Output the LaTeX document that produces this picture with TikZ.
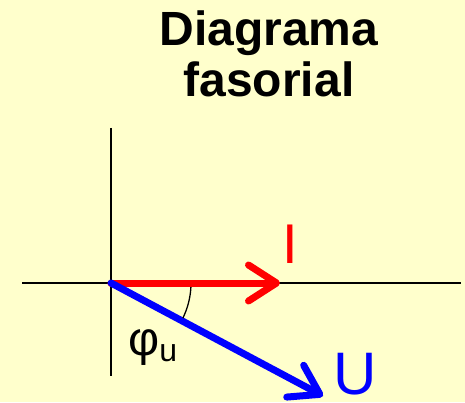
\documentclass[tikz,border=0pt]{standalone}
\usepackage{fontspec}
\setmainfont{Liberation Sans}
\usetikzlibrary{arrows.meta}
\definecolor{paleyellow}{RGB}{255, 255, 204}
\definecolor{phred}{RGB}{255, 0, 0}
\definecolor{phblue}{RGB}{0, 0, 255}
\tikzset{
  axis/.style={draw=black, line width=2.6pt},
  phasor/.style={line width=7pt, line cap=round,
    -{Straight Barb[length=28pt, width=36pt, line cap=round, line join=round]}},
  biglabel/.style={inner sep=0pt, anchor=base}
}
\begin{document}
\begin{tikzpicture}[x=1pt, y=1pt]
  \fill[paleyellow] (0,0) rectangle (465,402);
  \useasboundingbox (0,0) rectangle (465,402);

  \node[font=\bfseries\fontsize{48}{51}\selectfont, align=center, inner sep=0pt] (title) at (269,348) {Diagrama\\fasorial};

  % --- axes ---
  \coordinate (o) at (111,119);
  \coordinate (xl) at (22,119);
  \coordinate (xr) at (461,119);
  \coordinate (yt) at (111,274);
  \coordinate (yb) at (111,26);
  \draw[axis] (xl) -- (xr);
  \draw[axis] (yt) -- (yb);

  % --- phasors ---
  \coordinate (itip) at (280,119);
  \coordinate (utip) at (323,6);
  \draw[phasor, phred] (o) -- (itip);
  \draw[phasor, phblue] (o) -- (utip);

  % --- angle ---
  \draw[line width=1.3pt] ([shift={(-3:80)}]o) arc[start angle=-3, end angle=-26, radius=80];

  % --- labels ---
  \node[biglabel, font=\fontsize{56}{58}\selectfont, text=phred] (ilab) at (290,139) {I};
  \node[biglabel, font=\fontsize{60}{62}\selectfont, text=phblue] (ulab) at (355,8) {U};
  \node[font=\fontsize{48}{50}\selectfont, inner sep=0pt, anchor=base west] (phi) at (128,47) {φ\raisebox{-6pt}{\fontsize{32}{34}\selectfont u}};
\end{tikzpicture}
\end{document}
